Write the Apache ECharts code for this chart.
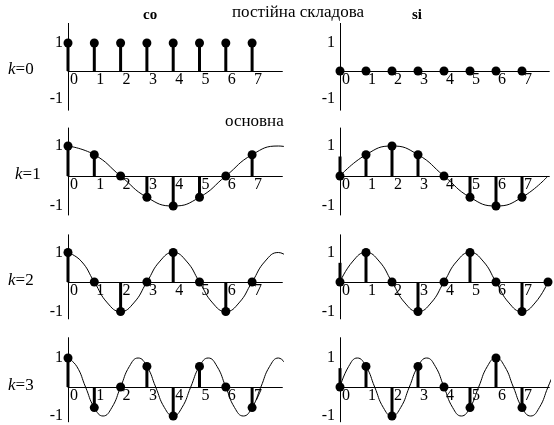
<!DOCTYPE html>
<html>
<head>
<meta charset="utf-8">
<script src="https://cdn.jsdelivr.net/npm/echarts@6/dist/echarts.min.js"></script>
<style>
  html, body { margin: 0; padding: 0; background: #fff; }
  #main { width: 554px; height: 425px; }
</style>
</head>
<body>
<div id="main"></div>
<script>
// ---------------- дані ----------------
const tickLabels = ["0", "1", "2", "3", "4", "5", "6", "7"];
const yLabels = [-1, 1];
const kNames = ["0", "1", "2", "3"];

// відліки (точки) для co / si, k = 0..3
const cosDots = [
  [1, 1, 1, 1, 1, 1, 1, 1],
  [1, 0.71, 0, -0.71, -1, -0.71, 0, 0.71],
  [1, 0, -1, 0, 1, 0, -1, 0],
  [1, -0.71, 0, 0.71, -1, 0.71, 0, -0.71],
];
const sinDots = [
  [0, 0, 0, 0, 0, 0, 0, 0],
  [0, 0.71, 1, 0.71, 0, -0.71, -1, -0.71],
  [0, 1, 0, -1, 0, 1, 0, -1, 0],
  [0, 0.71, -1, 0.71, 0, -0.71, 1, -0.71],
];
// висота стовпчиків (у si на n=0 є короткий стовпчик угору)
const cosStems = cosDots;
const sinStems = [
  [0, 0, 0, 0, 0, 0, 0, 0],
  [0.65, 0.71, 1, 0.71, 0, -0.71, -1, -0.71],
  [0.65, 1, 0, -1, 0, 1, 0, -1],
  [0.65, 0.71, -1, 0.71, 0, -0.71, 1, -0.71],
];

// неперервні криві, крок по n
const curveDx = [null, 1, 0.5, 1 / 3];
const cosCurves = [
  null,
  [1, 0.71, 0, -0.71, -1, -0.71, 0, 0.71, 1, 0.71],
  [1, 0.71, 0, -0.71, -1, -0.71, 0, 0.71, 1, 0.71, 0, -0.71, -1, -0.71, 0, 0.71, 1, 0.71],
  [1, 0.71, 0, -0.71, -1, -0.71, 0, 0.71, 1, 0.71, 0, -0.71, -1, -0.71, 0, 0.71,
   1, 0.71, 0, -0.71, -1, -0.71, 0, 0.71, 1, 0.71],
];
const sinCurves = [
  null,
  [0, 0.71, 1, 0.71, 0, -0.71, -1, -0.71, 0],
  [0, 0.71, 1, 0.71, 0, -0.71, -1, -0.71, 0, 0.71, 1, 0.71, 0, -0.71, -1, -0.71, 0],
  [0, 0.71, 1, 0.71, 0, -0.71, -1, -0.71, 0, 0.71, 1, 0.71, 0, -0.71, -1, -0.71,
   0, 0.71, 1, 0.71, 0, -0.71, -1, -0.71, 0, 0.71],
];

// ---------------- розмітка ----------------
const FONT = "'Liberation Serif', 'Times New Roman', serif";
const rows = [
  { axisY: 71, ppu: 28, yMax: 1.7, yMin: -1.4 },
  { axisY: 176, ppu: 30, yMax: 1.6, yMin: -1.3 },
  { axisY: 282, ppu: 29.5, yMax: 1.6, yMin: -1.25 },
  { axisY: 387, ppu: 29, yMax: 1.7, yMin: -1.2 },
];
const cols = [
  { x0: 68, ppx: 26.3, xMax: 8.15 },
  { x0: 340, ppx: 26, xMax: 8.05 },
];

let chartDom = document.getElementById("main");
let myChart = echarts.init(chartDom);

const grid = [], xAxis = [], yAxis = [], series = [];

rows.forEach((r, ri) => {
  cols.forEach((c, ci) => {
    const idx = ri * 2 + ci;
    grid.push({
      left: c.x0,
      width: c.xMax * c.ppx,
      top: r.axisY - r.yMax * r.ppu,
      height: (r.yMax - r.yMin) * r.ppu,
    });
    xAxis.push({
      type: "value",
      gridIndex: idx,
      min: 0,
      max: c.xMax,
      position: "bottom",
      offset: r.yMin * r.ppu, // вісь x на рівні нуля (разом з підписами)
      axisLine: { onZero: false, lineStyle: { color: "#000", width: 1 } },
      axisTick: { show: false },
      splitLine: { show: false },
      axisLabel: {
        customValues: tickLabels.map((t, i) => i),
        formatter: (v) => tickLabels[Math.round(v)],
        align: "left",
        margin: 1,
        padding: [0, 0, 0, 2],
        color: "#000",
        fontFamily: FONT,
        fontSize: 16,
      },
    });
    yAxis.push({
      type: "value",
      gridIndex: idx,
      min: r.yMin,
      max: r.yMax,
      axisLine: { onZero: false, lineStyle: { color: "#000", width: 1 } },
      axisTick: { show: false },
      splitLine: { show: false },
      axisLabel: {
        customValues: yLabels,
        margin: 5,
        color: "#000",
        fontFamily: FONT,
        fontSize: 16,
      },
    });

    const curves = ci === 0 ? cosCurves : sinCurves;
    const stems = ci === 0 ? cosStems : sinStems;
    const dots = ci === 0 ? cosDots : sinDots;

    if (curves[ri]) {
      series.push({
        type: "line",
        xAxisIndex: idx,
        yAxisIndex: idx,
        data: curves[ri].map((v, i) => [i * curveDx[ri], v]),
        smooth: true,
        symbol: "none",
        clip: true,
        lineStyle: { color: "#000", width: 1 },
        silent: true,
      });
    }
    series.push({
      type: "bar",
      xAxisIndex: idx,
      yAxisIndex: idx,
      data: stems[ri].map((v, i) => [i, v]),
      barWidth: 3,
      itemStyle: { color: "#000" },
      silent: true,
    });
    series.push({
      type: "scatter",
      xAxisIndex: idx,
      yAxisIndex: idx,
      data: dots[ri].map((v, i) => [i, v]),
      symbolSize: 9,
      itemStyle: { color: "#000", opacity: 1 },
      silent: true,
    });
  });
});

// підписи k=0..3 та заголовки
const graphic = [
  { type: "text", left: 143, top: 8, style: { text: "co", font: "bold 15px " + FONT, fill: "#000" } },
  { type: "text", left: 412, top: 8, style: { text: "si", font: "bold 15px " + FONT, fill: "#000" } },
  { type: "text", left: 232, top: 4, style: { text: "постійна складова", font: "17px " + FONT, fill: "#000" } },
  { type: "text", left: 225, top: 113, style: { text: "основна", font: "17px " + FONT, fill: "#000" } },
];
rows.forEach((r, ri) => {
  graphic.push({
    type: "text",
    left: ri === 1 ? 15 : 8,
    top: r.axisY - 10,
    style: {
      text: "{i|k}{n|=" + kNames[ri] + "}",
      rich: {
        i: { fontFamily: FONT, fontSize: 17, fontStyle: "italic", fill: "#000" },
        n: { fontFamily: FONT, fontSize: 17, fill: "#000" },
      },
    },
  });
});

let option = {
  animation: false,
  backgroundColor: "#fff",
  grid: grid,
  xAxis: xAxis,
  yAxis: yAxis,
  series: series,
  graphic: graphic,
};
myChart.setOption(option);

window.onresize = function () {
  myChart.resize();
};
</script>
</body>
</html>
